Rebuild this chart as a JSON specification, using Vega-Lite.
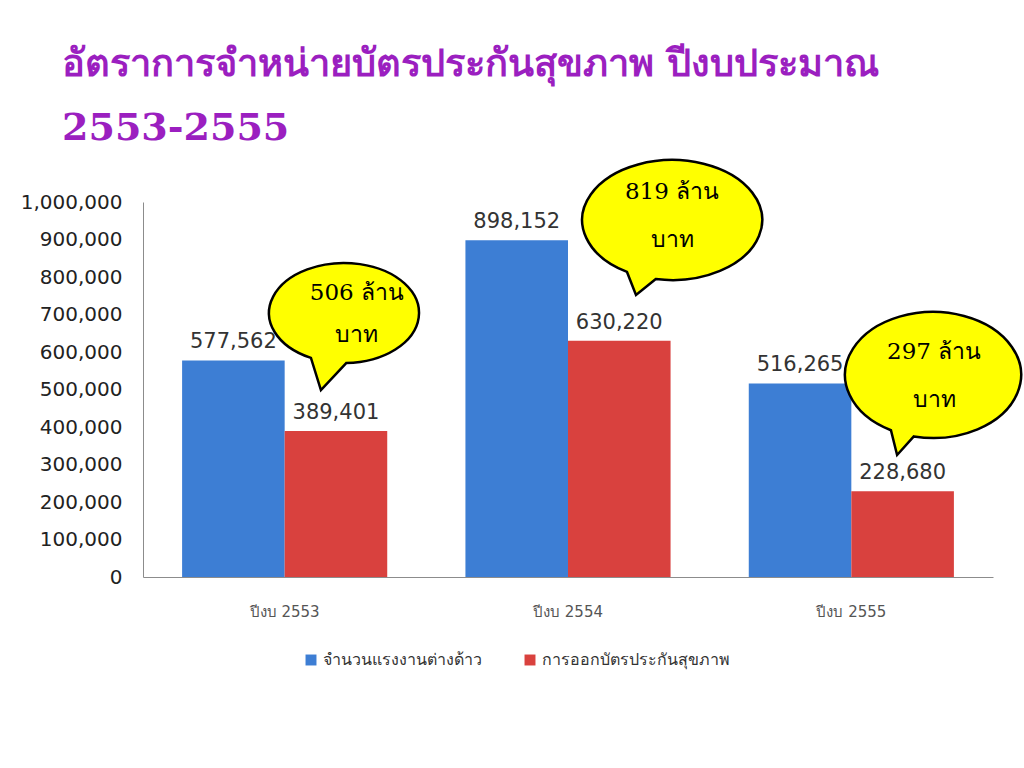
{
  "$schema": "https://vega.github.io/schema/vega-lite/v6.json",
  "width": 850,
  "height": 375,
  "autosize": "none",
  "padding": {"left": 143, "top": 202, "right": 31, "bottom": 191},
  "background": "white",
  "title": {
    "text": ["อัตราการจำหน่ายบัตรประกันสุขภาพ ปีงบประมาณ", "2553-2555"],
    "anchor": "start",
    "frame": "group",
    "dx": -81,
    "offset": 7,
    "font": "DejaVu Serif",
    "fontSize": 38,
    "fontWeight": "bold",
    "color": "#9B1FC0",
    "lineHeight": 64
  },
  "config": {
    "view": {"stroke": null},
    "font": "DejaVu Sans",
    "axisX": {"title": null, "labelAngle": 0, "ticks": false, "grid": false, "domainColor": "#8c8c8c", "labelFont": "DejaVu Sans", "labelFontSize": 15, "labelColor": "#555555", "labelPadding": 27},
    "axisY": {"title": null, "tickCount": 10, "labelExpr": "format(datum.value, ',')", "labelOverlap": false, "grid": false, "ticks": false, "domainColor": "#8c8c8c", "labelFont": "DejaVu Sans", "labelFontSize": 20, "labelColor": "#222222", "labelPadding": 21}
  },
  "datasets": {
    "bars": [
      {"year": "ปีงบ 2553", "series": "จำนวนแรงงานต่างด้าว", "value": 577562},
      {"year": "ปีงบ 2553", "series": "การออกบัตรประกันสุขภาพ", "value": 389401},
      {"year": "ปีงบ 2554", "series": "จำนวนแรงงานต่างด้าว", "value": 898152},
      {"year": "ปีงบ 2554", "series": "การออกบัตรประกันสุขภาพ", "value": 630220},
      {"year": "ปีงบ 2555", "series": "จำนวนแรงงานต่างด้าว", "value": 516265},
      {"year": "ปีงบ 2555", "series": "การออกบัตรประกันสุขภาพ", "value": 228680}
    ],
    "callouts": [
      {"year": "ปีงบ 2553", "level": 704000, "note": "506 ล้าน|บาท"},
      {"year": "ปีงบ 2554", "level": 952000, "note": "819 ล้าน|บาท"},
      {"year": "ปีงบ 2555", "level": 538700, "note": "297 ล้าน|บาท"}
    ]
  },
  "layer": [
    {
      "data": {"name": "bars"},
      "mark": {"type": "bar"},
      "encoding": {
        "x": {
          "field": "year", "type": "nominal", "sort": null,
          "scale": {"paddingInner": 0.276, "paddingOuter": 0.138}
        },
        "xOffset": {"field": "series", "type": "nominal", "sort": ["จำนวนแรงงานต่างด้าว", "การออกบัตรประกันสุขภาพ"]},
        "y": {
          "field": "value", "type": "quantitative",
          "scale": {"domain": [0, 1000000]}
        },
        "color": {
          "field": "series", "type": "nominal",
          "sort": ["จำนวนแรงงานต่างด้าว", "การออกบัตรประกันสุขภาพ"],
          "scale": {"domain": ["จำนวนแรงงานต่างด้าว", "การออกบัตรประกันสุขภาพ"], "range": ["#3D7ED4", "#D9413E"]},
          "legend": {"title": null, "orient": "none", "direction": "horizontal", "legendX": 160, "legendY": 450, "symbolType": "square", "symbolSize": 120, "symbolStrokeWidth": 0, "labelFont": "DejaVu Sans", "labelFontSize": 16, "labelColor": "#333333", "labelLimit": 400, "columnPadding": 40}
        }
      }
    },
    {
      "data": {"name": "bars"},
      "mark": {"type": "text", "baseline": "bottom", "dy": -8, "font": "DejaVu Sans", "fontSize": 21, "color": "#333333"},
      "encoding": {
        "x": {"field": "year", "type": "nominal", "sort": null},
        "xOffset": {"field": "series", "type": "nominal", "sort": ["จำนวนแรงงานต่างด้าว", "การออกบัตรประกันสุขภาพ"]},
        "y": {"field": "value", "type": "quantitative"},
        "text": {"field": "value", "type": "quantitative", "format": ","}
      }
    },
    {
      "data": {"name": "callouts"},
      "transform": [{"filter": "datum.year === 'ปีงบ 2553'"}],
      "mark": {"type": "point", "shape": "M 0.03 0.667 L -0.307 1.027 L -0.44 0.599 A 1 0.667 0 1 1 0.03 0.667 Z", "size": 22500, "filled": true, "fill": "#FFFF00", "stroke": "#000000", "strokeWidth": 2.5, "opacity": 1},
      "encoding": {
        "x": {"field": "year", "type": "nominal", "sort": null, "bandPosition": 0.789},
        "y": {"field": "level", "type": "quantitative"}
      }
    },
    {
      "data": {"name": "callouts"},
      "transform": [{"filter": "datum.year === 'ปีงบ 2554'"}],
      "mark": {"type": "point", "shape": "M -0.18 0.656 L -0.4 0.833 L -0.5 0.577 A 1 0.667 0 1 1 -0.18 0.656 Z", "size": 32400, "filled": true, "fill": "#FFFF00", "stroke": "#000000", "strokeWidth": 2.5, "opacity": 1},
      "encoding": {
        "x": {"field": "year", "type": "nominal", "sort": null, "bandPosition": 1.007},
        "y": {"field": "level", "type": "quantitative"}
      }
    },
    {
      "data": {"name": "callouts"},
      "transform": [{"filter": "datum.year === 'ปีงบ 2555'"}],
      "mark": {"type": "point", "shape": "M -0.22 0.698 L -0.41 0.909 L -0.48 0.628 A 1 0.716 0 1 1 -0.22 0.698 Z", "size": 30976, "filled": true, "fill": "#FFFF00", "stroke": "#000000", "strokeWidth": 2.5, "opacity": 1},
      "encoding": {
        "x": {"field": "year", "type": "nominal", "sort": null, "bandPosition": 0.899},
        "y": {"field": "level", "type": "quantitative"}
      }
    },
    {
      "data": {"name": "callouts"},
      "transform": [{"filter": "datum.year === 'ปีงบ 2553'"}],
      "mark": {"type": "text", "lineBreak": "|", "lineHeight": 42, "baseline": "middle", "align": "center", "dx": 13, "dy": -20, "font": "DejaVu Serif", "fontSize": 23, "color": "#000000"},
      "encoding": {
        "x": {"field": "year", "type": "nominal", "sort": null, "bandPosition": 0.789},
        "y": {"field": "level", "type": "quantitative"},
        "text": {"field": "note", "type": "nominal"}
      }
    },
    {
      "data": {"name": "callouts"},
      "transform": [{"filter": "datum.year === 'ปีงบ 2554'"}],
      "mark": {"type": "text", "lineBreak": "|", "lineHeight": 48, "baseline": "middle", "align": "center", "dx": 0, "dy": -28, "font": "DejaVu Serif", "fontSize": 23, "color": "#000000"},
      "encoding": {
        "x": {"field": "year", "type": "nominal", "sort": null, "bandPosition": 1.007},
        "y": {"field": "level", "type": "quantitative"},
        "text": {"field": "note", "type": "nominal"}
      }
    },
    {
      "data": {"name": "callouts"},
      "transform": [{"filter": "datum.year === 'ปีงบ 2555'"}],
      "mark": {"type": "text", "lineBreak": "|", "lineHeight": 48, "baseline": "middle", "align": "center", "dx": 1, "dy": -23, "font": "DejaVu Serif", "fontSize": 23, "color": "#000000"},
      "encoding": {
        "x": {"field": "year", "type": "nominal", "sort": null, "bandPosition": 0.899},
        "y": {"field": "level", "type": "quantitative"},
        "text": {"field": "note", "type": "nominal"}
      }
    }
  ]
}
